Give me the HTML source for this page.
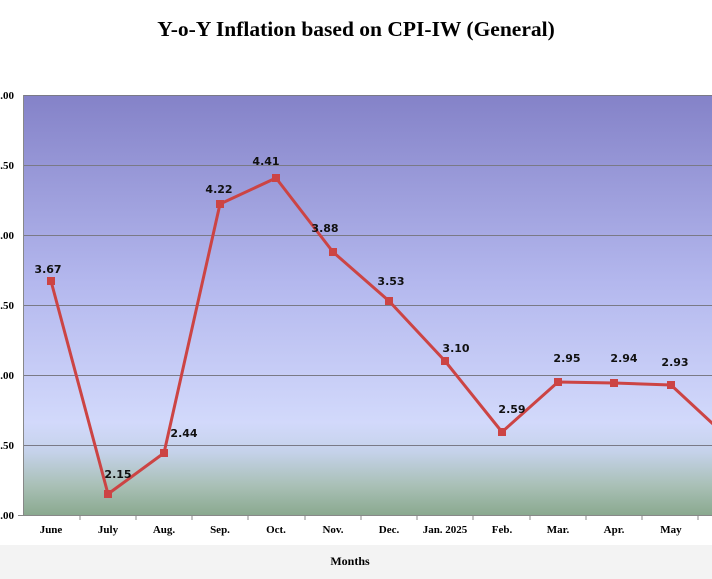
<!DOCTYPE html>
<html><head><style>
html,body{margin:0;padding:0;width:712px;height:579px;overflow:hidden;background:#fff;}
</style></head><body>
<svg width="712" height="579" xmlns="http://www.w3.org/2000/svg" style="display:block">
<defs>
<linearGradient id="bg" x1="0" y1="95" x2="0" y2="515" gradientUnits="userSpaceOnUse">
<stop offset="0" stop-color="#8482c8"/>
<stop offset="0.45" stop-color="#b4b8ee"/>
<stop offset="0.78" stop-color="#d2d9fb"/>
<stop offset="0.85" stop-color="#c5d2ea"/>
<stop offset="0.93" stop-color="#a9c0b6"/>
<stop offset="1" stop-color="#8aa98f"/>
</linearGradient>
</defs>
<rect x="0" y="545" width="712" height="34" fill="#f3f3f3"/>
<text x="356" y="36" text-anchor="middle" font-family="Liberation Serif" font-weight="bold" font-size="21.5">Y-o-Y Inflation based on CPI-IW (General)</text>
<rect x="23" y="95" width="689" height="420" fill="url(#bg)"/>
<g stroke="#7a7a86" stroke-width="1">
<line x1="23" y1="95.5" x2="712" y2="95.5"/>
<line x1="23" y1="165.5" x2="712" y2="165.5"/>
<line x1="23" y1="235.5" x2="712" y2="235.5"/>
<line x1="23" y1="305.5" x2="712" y2="305.5"/>
<line x1="23" y1="375.5" x2="712" y2="375.5"/>
<line x1="23" y1="445.5" x2="712" y2="445.5"/>
</g>
<g stroke="#888" stroke-width="1">
<line x1="23.5" y1="95" x2="23.5" y2="515"/>
<line x1="18" y1="515.5" x2="712" y2="515.5"/>
<line x1="80" y1="515" x2="80" y2="520"/><line x1="136" y1="515" x2="136" y2="520"/><line x1="192" y1="515" x2="192" y2="520"/><line x1="248" y1="515" x2="248" y2="520"/><line x1="305" y1="515" x2="305" y2="520"/><line x1="361" y1="515" x2="361" y2="520"/><line x1="417" y1="515" x2="417" y2="520"/><line x1="473" y1="515" x2="473" y2="520"/><line x1="530" y1="515" x2="530" y2="520"/><line x1="586" y1="515" x2="586" y2="520"/><line x1="642" y1="515" x2="642" y2="520"/><line x1="698" y1="515" x2="698" y2="520"/>
</g>
<g font-family="Liberation Serif" font-weight="bold" font-size="11" text-anchor="end">
<text x="14" y="99">5.00</text><text x="14" y="169">4.50</text><text x="14" y="239">4.00</text><text x="14" y="309">3.50</text><text x="14" y="379">3.00</text><text x="14" y="449">2.50</text><text x="14" y="519">2.00</text>
</g>
<g font-family="Liberation Serif" font-weight="bold" font-size="11" text-anchor="middle">
<text x="51" y="533">June</text><text x="108" y="533">July</text><text x="164" y="533">Aug.</text><text x="220" y="533">Sep.</text><text x="276" y="533">Oct.</text><text x="333" y="533">Nov.</text><text x="389" y="533">Dec.</text><text x="445" y="533">Jan. 2025</text><text x="502" y="533">Feb.</text><text x="558" y="533">Mar.</text><text x="614" y="533">Apr.</text><text x="671" y="533">May</text>
<text x="350" y="565" font-size="12">Months</text>
</g>
<polyline fill="none" stroke="#cc4444" stroke-width="3" stroke-linejoin="round" points="51,281 108,494 164,453 220,204 276,178 333,252 389,301 445,361 502,432 558,382 614,383 671,385 727,437"/>
<g fill="#cc4444">
<rect x="47" y="277" width="8" height="8"/><rect x="104" y="490" width="8" height="8"/><rect x="160" y="449" width="8" height="8"/><rect x="216" y="200" width="8" height="8"/><rect x="272" y="174" width="8" height="8"/><rect x="329" y="248" width="8" height="8"/><rect x="385" y="297" width="8" height="8"/><rect x="441" y="357" width="8" height="8"/><rect x="498" y="428" width="8" height="8"/><rect x="554" y="378" width="8" height="8"/><rect x="610" y="379" width="8" height="8"/><rect x="667" y="381" width="8" height="8"/>
</g>
<g font-family="DejaVu Sans" font-weight="bold" font-size="11" fill="#111" text-anchor="middle">
<text x="48" y="273">3.67</text><text x="118" y="478">2.15</text><text x="184" y="437">2.44</text><text x="219" y="193">4.22</text><text x="266" y="165">4.41</text><text x="325" y="232">3.88</text><text x="391" y="285">3.53</text><text x="456" y="352">3.10</text><text x="512" y="413">2.59</text><text x="567" y="362">2.95</text><text x="624" y="362">2.94</text><text x="675" y="366">2.93</text>
</g>
</svg>
</body></html>
